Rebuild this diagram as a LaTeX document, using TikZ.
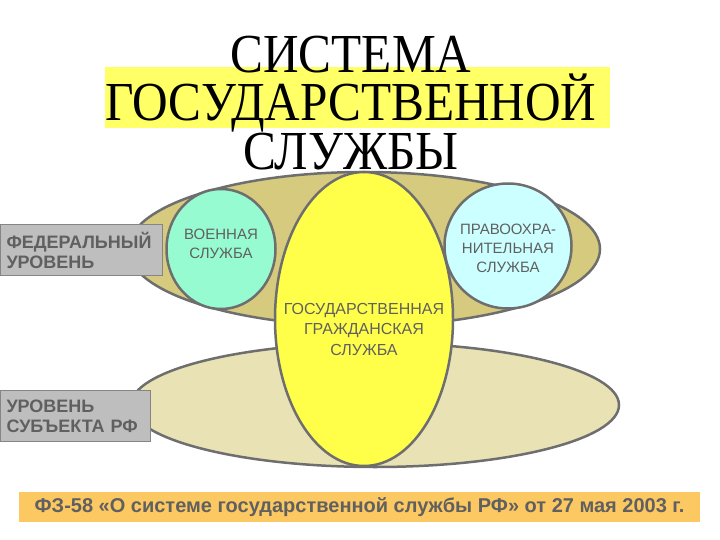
\documentclass[tikz,border=0pt]{standalone}
\usepackage{fontspec}
\setmainfont{Liberation Serif}
\setsansfont{Liberation Sans}
\usepackage{graphicx}
\usepackage{tikz}
\usetikzlibrary{shapes.geometric}

\definecolor{outl}{HTML}{6E6E6E}
\definecolor{labgrey}{HTML}{606060}
\definecolor{fedfill}{HTML}{D5CA7E}
\definecolor{regfill}{HTML}{E8E2B4}
\definecolor{civfill}{HTML}{FFFF4A}
\definecolor{milfill}{HTML}{96FBD0}
\definecolor{lawfill}{HTML}{CCFFFF}
\definecolor{hlfill}{HTML}{FFFF66}
\definecolor{boxfill}{HTML}{BEBEBE}
\definecolor{notefill}{HTML}{FCC862}

\begin{document}
\begin{tikzpicture}[x=1pt, y=-1pt,
    oval/.style={ellipse, draw=outl, line width=2.5pt, inner sep=0pt},
    lbl/.style={font=\sffamily\fontsize{15}{19}\selectfont, text=labgrey, align=center, inner sep=0pt},
    levelbox/.style={rectangle, draw=boxfill!70!black, line width=1pt, fill=boxfill,
        anchor=north west, text width=150pt, inner xsep=6pt, minimum height=51pt,
        align=left, text=labgrey, font=\sffamily\bfseries\fontsize{18}{20}\selectfont},
    titletext/.style={anchor=north, inner sep=0pt, align=center,
        font=\fontsize{55}{47}\selectfont}]
    \useasboundingbox (0,0) rectangle (720,540);

    % title
    \fill[hlfill] (105,67) rectangle (610,128);
    \node[titletext] (title) at (351,36) {\lineskiplimit=-100pt\relax
        \scalebox{0.896}[1]{СИСТЕМА}\\
        \scalebox{0.896}[1]{ГОСУДАРСТВЕННОЙ}\\\scalebox{0.896}[1]{СЛУЖБЫ}};

    % levels
    \node[oval, fill=regfill, minimum width=488pt, minimum height=124pt] (reg) at (375,405) {};
    \node[oval, fill=fedfill, minimum width=472pt, minimum height=154pt] (fed) at (364,249) {};

    % services
    \node[oval, fill=civfill, minimum width=178pt, minimum height=294pt] (civ) at (364,319) {};
    \node[lbl, font=\sffamily\fontsize{16}{20.5}\selectfont] (civtext) at ([yshift=-10pt]civ.center)
        {ГОСУДАРСТВЕННАЯ\\ГРАЖДАНСКАЯ\\СЛУЖБА};
    \node[oval, fill=milfill, minimum width=109pt, minimum height=120pt] (mil) at (221,249) {};
    \node[lbl] (miltext) at ([yshift=5pt]mil.center) {ВОЕННАЯ\\СЛУЖБА};
    \node[oval, fill=lawfill, minimum width=127pt, minimum height=125pt] (law) at (508,246) {};
    \node[lbl] (lawtext) at ([yshift=-2pt]law.center) {ПРАВООХРА-\\НИТЕЛЬНАЯ\\СЛУЖБА};

    % level labels
    \node[levelbox] (fedlab) at (0,224) {ФЕДЕРАЛЬНЫЙ\\УРОВЕНЬ};
    \node[levelbox, text width=138pt] (reglab) at (0,390) {УРОВЕНЬ\\СУБЪЕКТА РФ};

    % law reference
    \node[rectangle, fill=notefill, minimum width=681pt, minimum height=30pt, inner sep=0pt,
        text=labgrey, font=\sffamily\bfseries\fontsize{20}{22}\selectfont] (fz58) at (359.5,507)
        {ФЗ-58 «О системе государственной службы РФ» от 27 мая 2003 г.};
\end{tikzpicture}
\end{document}
